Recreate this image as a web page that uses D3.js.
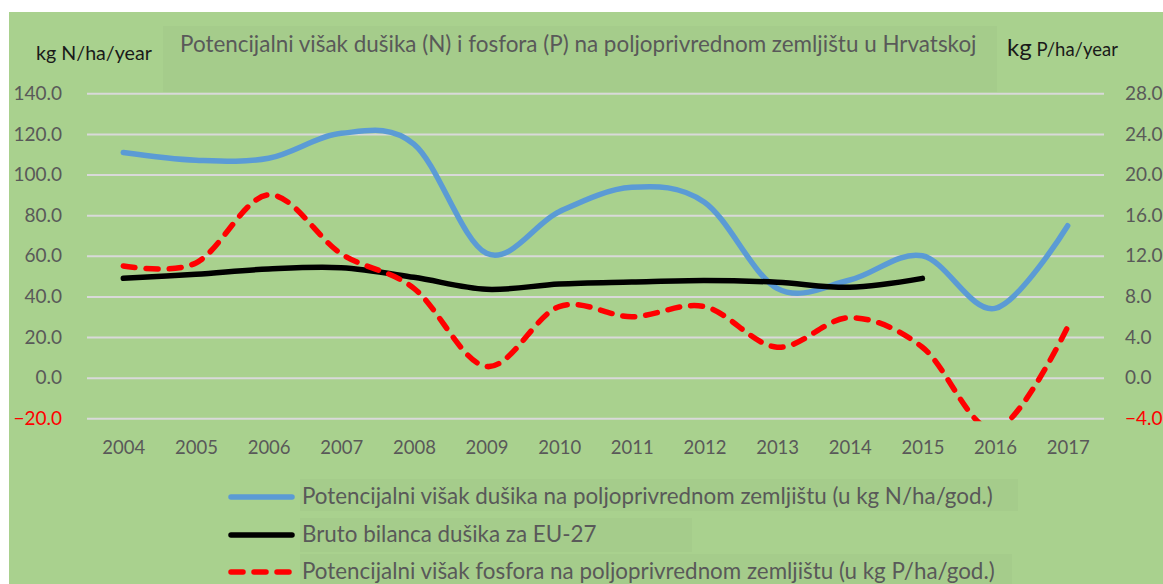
<!DOCTYPE html>
<html>
<head>
<meta charset="utf-8">
<script src="https://cdn.jsdelivr.net/npm/d3@7"></script>
<style>
    body { margin: 0; background: #fff; }
    text { font-family: Lato, "Open Sans", sans-serif; }
</style>
</head>
<body>
<svg id="chart" width="1163" height="584"></svg>
<script>
/* Chart data. */
const years = ['2004', '2005', '2006', '2007', '2008', '2009', '2010', '2011', '2012', '2013', '2014', '2015', '2016', '2017'];
// kg N/ha/year, left axis
const nitrogen = [110.9, 107.1, 108.0, 120.3, 115.0, 61.2, 81.7, 93.7, 86.4, 44.0, 48.1, 60.0, 34.1, 74.8];
const euBalance = [48.9, 50.9, 53.5, 54.1, 49.4, 43.5, 46.1, 47.1, 47.9, 47.0, 44.5, 48.9];
// kg P/ha/year, right axis
const phosphorus = [11.0, 11.3, 18.0, 12.2, 8.8, 1.1, 7.0, 6.0, 7.0, 3.0, 5.9, 3.0, -5.1, 5.0];
const leftTicks = [-20, 0, 20, 40, 60, 80, 100, 120, 140];
const rightTicks = [-4, 0, 4, 8, 12, 16, 20, 24, 28];
const legendLabels = [
    'Potencijalni višak dušika na poljoprivrednom zemljištu (u kg N/ha/god.)',
    'Bruto bilanca dušika za EU-27',
    'Potencijalni višak fosfora na poljoprivrednom zemljištu (u kg P/ha/god.)'
];
const title = 'Potencijalni višak dušika (N) i fosfora (P) na poljoprivrednom zemljištu u Hrvatskoj';

/* Layout values. */
const plot = {left: 87, right: 1104, top: 93.3, bottom: 418.3};
const grey = '#595959';
const bg = '#a9d18e';
const boxFill = '#a5cc8b';

const svg = d3.select('#chart');

// Background.
svg.append('rect').attr('x', 9).attr('y', 12).attr('width', 1163 - 9).attr('height', 584 - 12).attr('fill', bg);

// Shaded boxes behind title and legend texts.
svg.append('rect').attr('x', 163).attr('y', 26).attr('width', 834).attr('height', 66).attr('fill', boxFill);
const boxes = [[300, 479, 718, 32], [300, 518, 392, 34], [300, 554, 712, 30]];
for (const b of boxes)
    svg.append('rect').attr('x', b[0]).attr('y', b[1]).attr('width', b[2]).attr('height', b[3]).attr('fill', boxFill);

// Scales.
const x = d3.scalePoint().domain(years).range([plot.left, plot.right]).padding(0.5);
const yL = d3.scaleLinear().domain([-20, 140]).range([plot.bottom, plot.top]);
const yR = d3.scaleLinear().domain([-4, 28]).range([plot.bottom, plot.top]);

// Left axis with gridlines.
const leftAxis = svg.append('g')
    .attr('transform', 'translate(' + plot.left + ',0)')
    .call(d3.axisLeft(yL).tickValues(leftTicks).tickSize(-(plot.right - plot.left)).tickPadding(25)
        .tickFormat(d3.format('.1f')));
leftAxis.select('.domain').remove();
leftAxis.selectAll('line').attr('stroke', '#d9d9d9').attr('stroke-width', 2);
leftAxis.selectAll('text').attr('font-size', 19).attr('fill', function (d) {
    return d < 0 ? '#ff0000' : grey;
});

// Right axis.
const rightAxis = svg.append('g')
    .attr('transform', 'translate(' + plot.right + ',0)')
    .call(d3.axisRight(yR).tickValues(rightTicks).tickSize(0).tickPadding(21)
        .tickFormat(d3.format('.1f')));
rightAxis.select('.domain').remove();
rightAxis.selectAll('text').attr('font-size', 19).attr('fill', function (d) {
    return d < 0 ? '#ff0000' : grey;
});

// Category axis.
const xAxis = svg.append('g')
    .attr('transform', 'translate(0,' + plot.bottom + ')')
    .call(d3.axisBottom(x).tickSize(0).tickPadding(23));
xAxis.select('.domain').remove();
xAxis.selectAll('text').attr('font-size', 18.5).attr('fill', grey);

// Clip lines to plot area.
svg.append('clipPath').attr('id', 'clip').append('rect')
    .attr('x', 0).attr('y', plot.top - 20).attr('width', 1163).attr('height', plot.bottom - plot.top + 23);

const curve = d3.curveCatmullRom.alpha(0);
const lineN = d3.line().x(function (d, i) { return x(years[i]); }).y(function (d) { return yL(d); }).curve(curve);
const lineP = d3.line().x(function (d, i) { return x(years[i]); }).y(function (d) { return yR(d); }).curve(curve);

const lines = svg.append('g').attr('clip-path', 'url(#clip)');
lines.append('path').datum(nitrogen).attr('d', lineN)
    .attr('fill', 'none').attr('stroke', '#5b9bd5').attr('stroke-width', 5.5).attr('stroke-linecap', 'round');
lines.append('path').datum(euBalance).attr('d', lineN)
    .attr('fill', 'none').attr('stroke', '#000').attr('stroke-width', 5.5).attr('stroke-linecap', 'round');
lines.append('path').datum(phosphorus).attr('d', lineP)
    .attr('fill', 'none').attr('stroke', '#ff0000').attr('stroke-width', 5.5).attr('stroke-linecap', 'round')
    .attr('stroke-dasharray', '12,11');

// Fit a text element to a target width, returns the font size used.
function fit(t, target) {
    const w = t.node().getComputedTextLength();
    const fs = parseFloat(t.attr('font-size')) * target / w;
    t.attr('font-size', fs);
    return fs;
}

// Title and axis unit labels.
fit(svg.append('text').attr('x', 180).attr('y', 52).attr('font-size', 18).attr('fill', grey).text(title), 797);
fit(svg.append('text').attr('x', 36).attr('y', 60).attr('font-size', 17).attr('fill', '#1a1a1a').text('kg N/ha/year'), 116);
const unitR = svg.append('text').attr('x', 1007).attr('y', 56).attr('fill', '#1a1a1a');
unitR.append('tspan').attr('font-size', 24).text('kg');
unitR.append('tspan').attr('font-size', 18.5).text(' P/ha/year');

// Legend.
const legendY = [497, 535, 572];
const legendStyles = [
    {stroke: '#5b9bd5', dash: null},
    {stroke: '#000', dash: null},
    {stroke: '#ff0000', dash: '12,11'}
];
let legendSize = 19;
legendLabels.forEach(function (label, i) {
    svg.append('line').attr('x1', 231).attr('x2', 292).attr('y1', legendY[i]).attr('y2', legendY[i])
        .attr('stroke', legendStyles[i].stroke).attr('stroke-width', 5.5).attr('stroke-linecap', 'round')
        .attr('stroke-dasharray', legendStyles[i].dash);
    const t = svg.append('text').attr('x', 302).attr('y', legendY[i] + 7).attr('font-size', legendSize)
        .attr('fill', grey).text(label);
    if (i === 0) legendSize = fit(t, 691);
});
</script>
</body>
</html>
